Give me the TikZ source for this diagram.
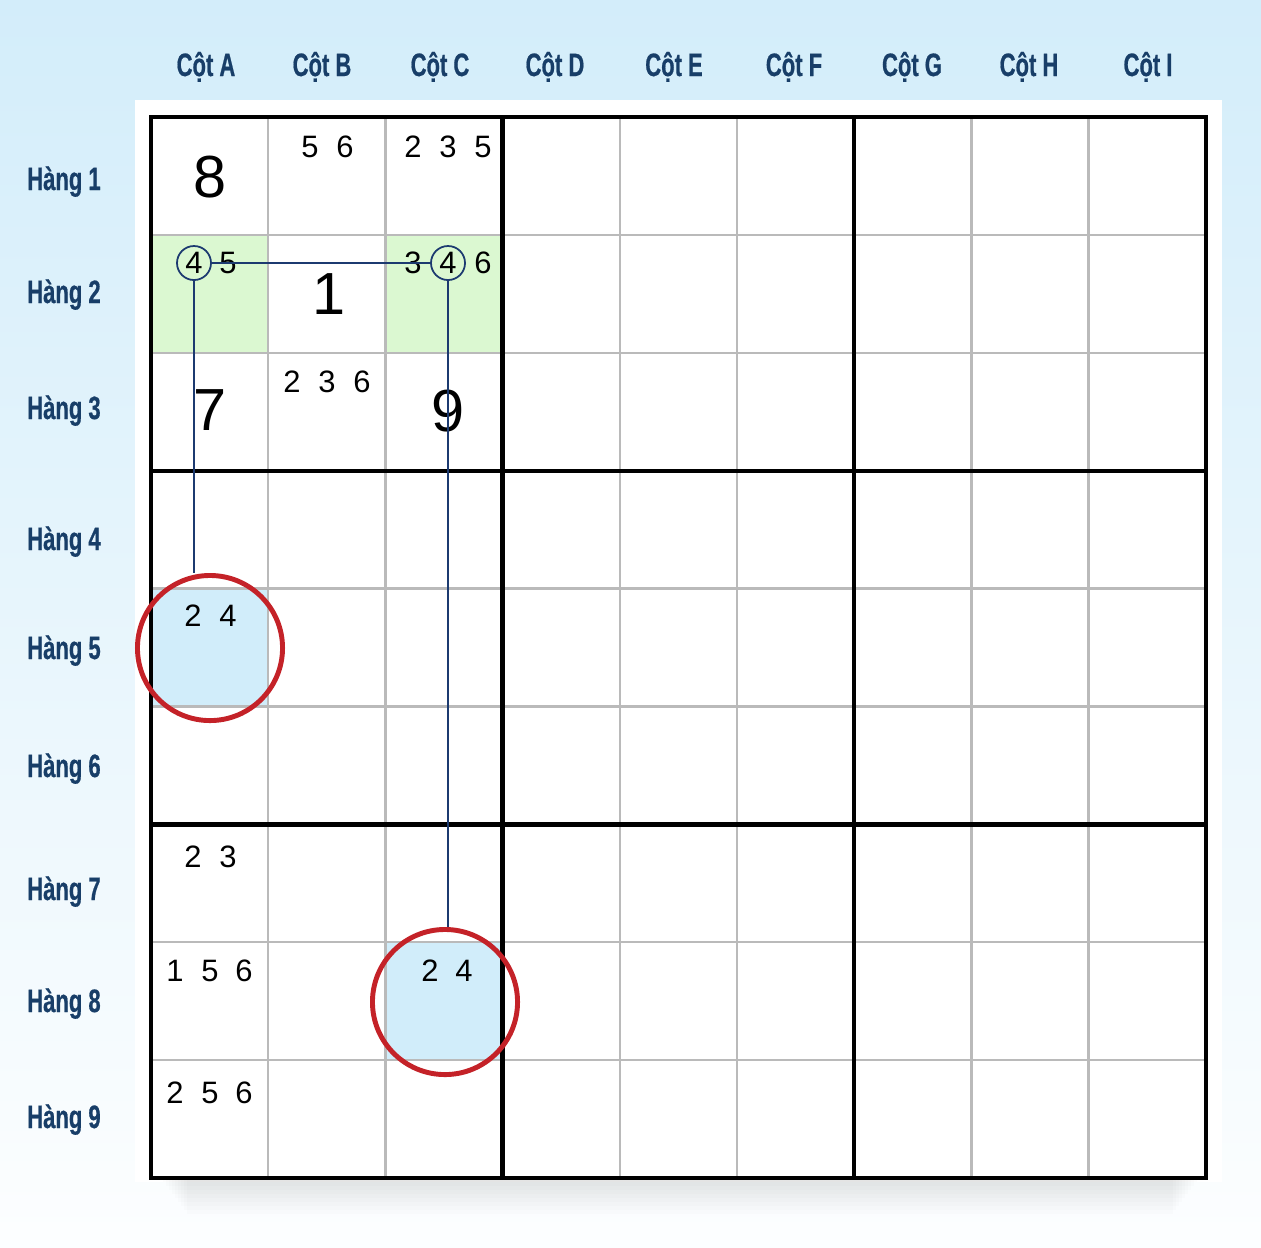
\documentclass[tikz,border=0pt]{standalone}
\usepackage{fontspec}
\setmainfont{Liberation Sans}
\newfontfamily\headfont{Liberation Sans}[FakeStretch=0.68,FakeBold=0.6]
\usepackage{tikz}
\usetikzlibrary{positioning}
\definecolor{headblue}{RGB}{24,62,104}
\definecolor{bgblue}{RGB}{211,237,250}
\definecolor{cellgreen}{RGB}{219,248,209}
\definecolor{cellblue}{RGB}{209,237,250}
\definecolor{linkblue}{RGB}{28,58,112}
\definecolor{ringred}{RGB}{196,34,40}

\begin{document}
\begin{tikzpicture}[x=0.01cm, y=-0.01cm,
        head/.style={font=\headfont\bfseries\fontsize{9.2}{11}\selectfont, text=headblue, anchor=base},
        given/.style={font=\fontsize{16.9}{20}\selectfont, inner sep=0pt},
        cand/.style={font=\fontsize{8.8}{10}\selectfont, inner sep=0pt},
        thinline/.style={draw=black!27, line width=0.65pt},
        boxline/.style={draw=black, line width=1.25pt},
        link/.style={draw=linkblue, line width=0.55pt},
        pick/.style={circle, draw=linkblue, line width=0.5pt, minimum size=0.34cm,
                     inner sep=0pt, font=\fontsize{8.8}{10}\selectfont},
        redring/.style={circle, draw=ringred, line width=1.4pt, minimum size=1.45cm,
                        inner sep=0pt}
                            ]
        % background
        \useasboundingbox (0,0) rectangle (1261,1247);
        \shade[top color=bgblue, bottom color=white!94!bgblue] (0,0) rectangle (1261,1247);
        \fill[white] (135,100) rectangle (1222,1182);
        % soft shadow under the grid
        \foreach \k in {1,...,9}
            \fill[black, opacity=0.012] ({160+3*\k},1176) rectangle ({1200-3*\k},{1178+4*\k});
        % marked cells
        \fill[cellgreen] (151,235) rectangle (268,352);
        \fill[cellgreen] (386,235) rectangle (503,352);
        \fill[cellblue] (151,589) rectangle (268,707);
        \fill[cellblue] (386,942) rectangle (503,1060);
        % grid
        \fill[white] (151,1060) rectangle (1206,1178);
        \foreach \i in {1,2,4,5,7,8} {
            \draw[thinline] ({151+117.2*\i},117) -- ++(0,1061);
            \draw[thinline] (151,{117+117.9*\i}) -- ++(1055,0);
        }
        \foreach \i in {3,6} {
            \draw[boxline] ({151+117.2*\i},117) -- ++(0,1061);
            \draw[boxline] (151,{117+117.9*\i}) -- ++(1055,0);
        }
        \draw[boxline] (151,117) rectangle (1206,1178);
        % headers
        \foreach \c/\x in {A/206,B/322,C/440,D/555,E/674,F/794,G/912,H/1029,I/1148}
            \node[head] (col\c) at (\x,76) {Cột \c};
        \foreach \r/\y in {1/190,2/303,3/419,4/550,5/659,6/777,7/900,8/1012,9/1128}
            \node[head] (row\r) at (64,\y) {Hàng \r};
        % given digits
        \node[given] (A1) at (210,177) {8};
        \node[given] (B2) at (329,294) {1};
        \node[given] (A3) at (210,410) {7};
        \node[given] (C3) at (448,411) {9};
        % candidates
        \foreach \n/\x/\y/\d in {b1a/310/147/5, b1b/345/147/6,
                c1a/413/147/2, c1b/448/147/3, c1c/483/147/5,
                a2b/228/263/5, c2a/413/263/3, c2c/483/263/6,
                b3a/292/382/2, b3b/327/382/3, b3c/362/382/6,
                a5a/193/616/2, a5b/228/616/4,
                a7a/193/857/2, a7b/228/857/3,
                a8a/175/971/1, a8b/210/971/5, a8c/244/971/6,
                c8a/430/971/2, c8b/464/971/4,
                a9a/175/1093/2, a9b/210/1093/5, a9c/244/1093/6}
            \node[cand] (\n) at (\x,\y) {\d};
        % the two 4s and their links
        \node[pick] (pickA) at (194,263) {4};
        \node[pick] (pickC) at (448,263) {4};
        \node[redring] (ringA) at (210,648) {};
        \node[redring] (ringC) at (445,1002) {};
        \draw[link] (pickA) -- (pickC);
        \draw[link] (pickA) -- (pickA |- ringA.north);
        \draw[link] (pickC) -- (pickC |- ringC.north);
    \end{tikzpicture}
\end{document}
